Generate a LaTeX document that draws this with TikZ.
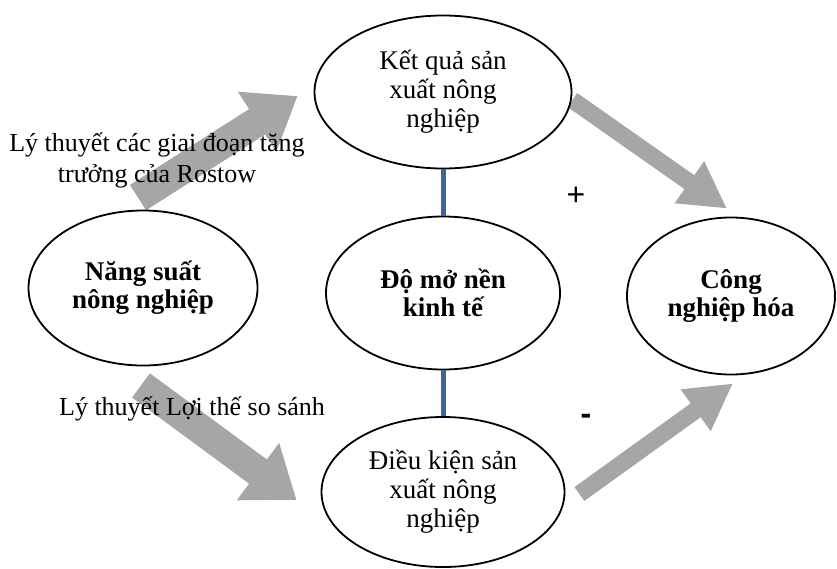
\documentclass[tikz,border=0pt]{standalone}
\usepackage{fontspec}
\setmainfont{Liberation Serif}
\newfontfamily\signfont{Liberation Sans}
\usetikzlibrary{shapes,arrows.meta,positioning,calc,backgrounds}

\definecolor{arrowgray}{RGB}{166,166,166}
\definecolor{linkblue}{RGB}{64,100,150}

\begin{document}
\begin{tikzpicture}[
    x=1pt, y=-1pt,
    oval/.style={ellipse, draw, line width=1.8pt, fill=white, align=center, inner sep=0pt, font=\fontsize{27}{29}\selectfont},
    boldoval/.style={oval, font=\fontsize{27}{28}\selectfont\bfseries},
    link/.style={line width=5pt, draw=linkblue},
    bigarrow/.style={line width=30pt, draw=arrowgray, -{Triangle[length=48pt, width=68pt]}},
    slimarrow/.style={line width=17pt, draw=arrowgray, -{Triangle[length=46pt, width=48pt]}},
    theory/.style={align=center, font=\fontsize{26}{31}\selectfont},
    plusminus/.style={font=\signfont\fontsize{32}{32}\selectfont}
]
\useasboundingbox (0,0) rectangle (837,568);

% Ovals
\node[boldoval, minimum width=229pt, minimum height=155pt] (nangsuat) at (143,288) {Năng suất\\nông nghiệp};
\node[oval, minimum width=257pt, minimum height=153pt] (ketqua) at (443,92) {Kết quả sản\\xuất nông\\nghiệp};
\node[boldoval, minimum width=234pt, minimum height=153pt] (domo) at (443,293) {Độ mở nền\\kinh tế};
\node[oval, minimum width=243pt, minimum height=150pt] (dieukien) at (443,492) {Điều kiện sản\\xuất nông\\nghiệp};
\node[boldoval, minimum width=208pt, minimum height=157pt] (congnghiep) at (731,296) {Công\\nghiệp hóa};

% Links through the middle
\draw[link] (ketqua.south) -- (domo.north);
\draw[link] (domo.south) -- (dieukien.north);

% Theory labels
\node[theory] (rostow) at (157,160) {Lý thuyết các giai đoạn tăng\\trưởng của Rostow};
\node[theory] (loithe) at (192,409) {Lý thuyết Lợi thế so sánh};

% Signs
\node[plusminus] (plus) at (576,196) {+};
\node[plusminus, font=\signfont\fontsize{32}{32}\selectfont\bfseries] (minus) at (586,419) {-};

% Block arrows behind everything
\begin{scope}[on background layer]
\draw[bigarrow] ($(nangsuat.north)+(-5,-12)$) -- ($(ketqua.west)+(-16,4)$);
\draw[bigarrow] ($(nangsuat.south)+(-2,19)$) -- ($(dieukien.west)+(-24,8)$);
\draw[slimarrow] ($(ketqua.east)+(0,8)$) -- ($(congnghiep.north)+(-4,-8)$);
\draw[slimarrow] ($(dieukien.east)+(14,2)$) -- ($(congnghiep.south)+(2,8)$);
\end{scope}

\end{tikzpicture}
\end{document}
